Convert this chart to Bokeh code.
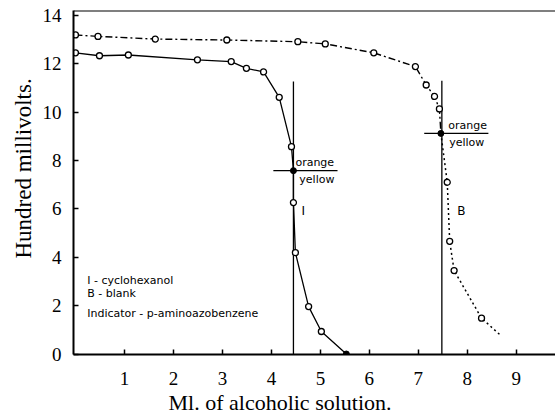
from bokeh.plotting import figure
from bokeh.models import Range1d, FixedTicker, Span, Title
from bokeh.core.properties import value
from bokeh.embed import file_html
from bokeh.resources import INLINE

# Curve I (cyclohexanol) - open circles
ml_I = [0.0, 0.49, 1.08, 2.49, 3.18, 3.49, 3.84, 4.16, 4.41, 4.45, 4.49, 4.76, 5.02, 5.53]
mv_I = [12.45, 12.33, 12.36, 12.16, 12.09, 11.81, 11.66, 10.61, 8.57, 6.26, 4.19, 1.96, 0.93, 0.0]

# Curve B (blank) - open circles
ml_B = [0.0, 0.46, 1.63, 3.09, 4.54, 5.10, 6.09, 6.94, 7.16, 7.33, 7.43, 7.59, 7.64, 7.73, 8.29]
mv_B = [13.19, 13.13, 13.02, 12.98, 12.91, 12.82, 12.45, 11.88, 11.12, 10.65, 10.13, 7.10, 4.66, 3.45, 1.48]
tail_B_ml = [8.67]
tail_B_mv = [0.79]

# end points (colour change orange -> yellow)
junction_ml = [4.45, 7.46]
junction_mv = [7.58, 9.12]
vline_ml = [4.45, 7.48]
vline_top = [11.26, 11.30]
bar_from_ml = [4.04, 7.12]
bar_to_ml = [5.35, 8.43]

x_ticks = [1, 2, 3, 4, 5, 6, 7, 8, 9]
y_ticks = [0, 2, 4, 6, 8, 10, 12, 14]

x_title = "Ml. of alcoholic solution."
y_title = "Hundred millivolts."
curve_names = ["I", "B"]
transition = ["orange", "yellow"]
legend_lines = ["I - cyclohexanol", "B - blank", "Indicator - p-aminoazobenzene"]

SERIF = "Liberation Serif"
SANS = "DejaVu Sans"

p = figure(width=555, height=418, output_backend="svg", toolbar_location=None,
           x_range=Range1d(-0.04, 9.80), y_range=Range1d(-0.02, 14.2),
           min_border_left=73, min_border_right=0, min_border_top=10, min_border_bottom=64)
p.outline_line_color = None
p.xgrid.visible = False
p.ygrid.visible = False
p.background_fill_color = "white"

for ax in (p.xaxis[0], p.yaxis[0]):
    ax.axis_line_width = 2
    ax.axis_line_color = "black"
    ax.major_tick_in = 5
    ax.major_tick_out = 0
    ax.major_tick_line_width = 1.5
    ax.minor_tick_line_color = None
    ax.major_label_text_font = SERIF
    ax.major_label_text_font_size = "19px"
    ax.major_label_text_color = "black"

p.xaxis.ticker = FixedTicker(ticks=x_ticks)
p.yaxis.ticker = FixedTicker(ticks=y_ticks)
p.xaxis.major_label_standoff = 17
p.yaxis.major_label_standoff = 12

# axis titles placed like the original (not centred on the frame)
p.add_layout(Title(text=x_title, text_font=SERIF, text_font_size="22px", text_font_style="normal",
                   text_color="black", align="left", offset=95, standoff=0), "below")
p.add_layout(Title(text=y_title, text_font=SERIF, text_font_size="23px", text_font_style="normal",
                   text_color="black", align="left", offset=96, standoff=7), "left")

top = Span(location=14.2, dimension="width", line_color="black", line_width=2)
p.add_layout(top)

# Curve I line
I_path_x = ml_I[:9] + [junction_ml[0]] + ml_I[9:]
I_path_y = mv_I[:9] + [junction_mv[0]] + mv_I[9:]
p.line(I_path_x, I_path_y, line_color="black", line_width=1.3)

# Curve B line: upper dash-dot, lower dotted
B_up_x = ml_B[:11] + [junction_ml[1]]
B_up_y = mv_B[:11] + [junction_mv[1]]
B_lo_x = [junction_ml[1]] + ml_B[11:] + tail_B_ml
B_lo_y = [junction_mv[1]] + mv_B[11:] + tail_B_mv
p.line(B_up_x, B_up_y, line_color="black", line_width=1.4, line_dash="7 3 2 3")
p.line(B_lo_x, B_lo_y, line_color="black", line_width=1.5, line_dash="2 3")

# end-point lines
p.segment(x0=vline_ml, y0=[0, 0], x1=vline_ml, y1=vline_top, line_color="black", line_width=1.3)
p.segment(x0=bar_from_ml, y0=junction_mv, x1=bar_to_ml, y1=junction_mv, line_color="black", line_width=1.3)

# markers
p.scatter(ml_I[:-1], mv_I[:-1], marker="circle", size=6, fill_color="white", line_color="black", line_width=1.3)
p.scatter(ml_I[-1:], mv_I[-1:], marker="circle", size=6, fill_color="black", line_color="black")
p.scatter(ml_B, mv_B, marker="circle", size=6, fill_color="white", line_color="black", line_width=1.3)
p.scatter(junction_ml, junction_mv, marker="circle", size=6, fill_color="black", line_color="black")

# transition labels
p.text([4.49, 7.61], [junction_mv[0] + 0.05, junction_mv[1] + 0.05], text=[transition[0]] * 2,
       text_font=value(SANS), text_font_size="11px", text_baseline="bottom", text_align="left", text_color="black")
p.text([4.57, 7.63], [junction_mv[0] - 0.1, junction_mv[1] - 0.1], text=[transition[1]] * 2,
       text_font=value(SANS), text_font_size="11px", text_baseline="top", text_align="left", text_color="black")

# curve names
p.text([4.65, 7.88], [5.93, 5.93], text=curve_names, text_font=value(SANS), text_font_size="12px",
       text_baseline="middle", text_align="center", text_color="black")

# legend text
p.text([0.24, 0.24, 0.24], [3.04, 2.50, 1.67], text=legend_lines, text_font=value(SANS),
       text_font_size="11px", text_baseline="middle", text_align="left", text_color="black")

open("out.html", "w").write(file_html(p, INLINE))
